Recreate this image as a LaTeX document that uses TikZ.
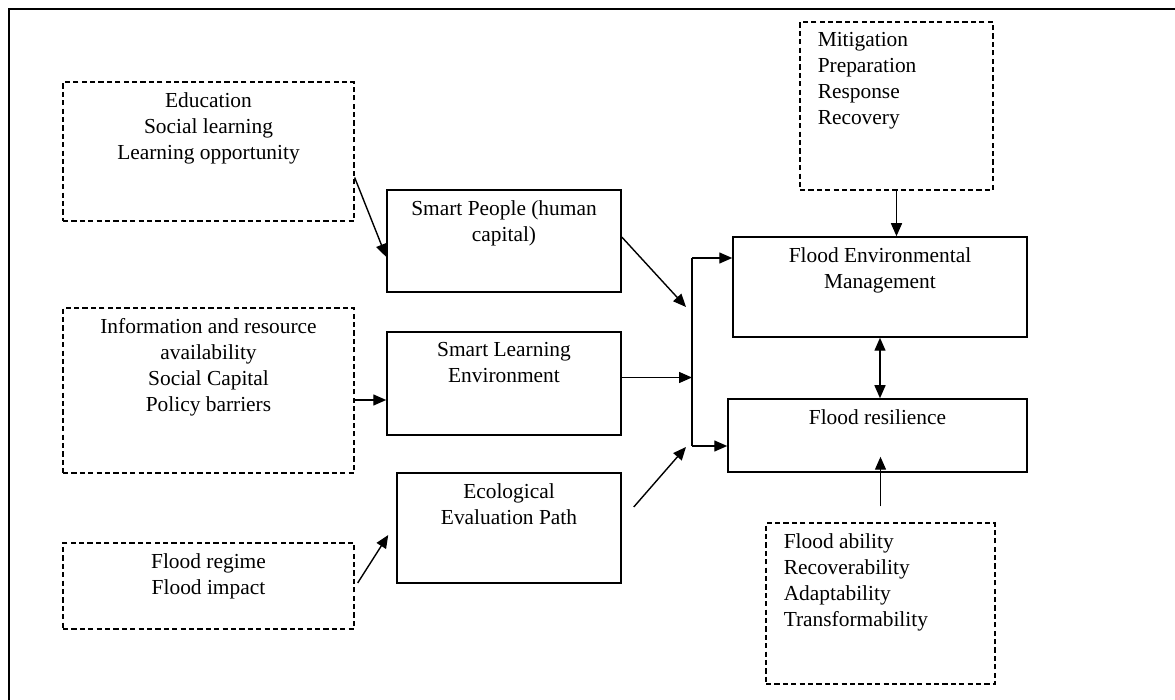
\documentclass[tikz,border=0pt]{standalone}
\usepackage{fontspec}
\setmainfont{Liberation Serif}
\usetikzlibrary{arrows.meta}
\begin{document}
\begin{tikzpicture}[x=.5pt,y=-.5pt,
		font=\fontsize{10.7}{13}\selectfont,
		linebox/.style={draw,line width=.75pt,inner sep=0pt},
		dashbox/.style={draw,line width=.65pt,dash pattern=on 2.6pt off 1.6pt,inner sep=0pt},
		head/.style={anchor=north,yshift=-5.5pt,align=center,inner sep=0pt},
		list/.style={anchor=north west,xshift=9pt,yshift=-5.5pt,align=left,inner sep=0pt},
		arr/.style={-{Triangle[length=6.5pt,width=5.5pt]},line width=.7pt}]
	\useasboundingbox (0,0) rectangle (1175,700);
	%page frame
		\draw[line width=1.1pt] (9,700) -- (9,9) -- (1175,9);
	% factors (dashed)
		\node[dashbox,minimum width=145.5pt,minimum height=69.5pt,
			label={[head]north:Education\\Social learning\\Learning opportunity}] (edu) at (208.5,151.5) {};
		\node[dashbox,minimum width=145.5pt,minimum height=82.5pt,
			label={[head]north:Information and resource\\availability\\Social Capital\\Policy barriers}] (info) at (208.5,390.5) {};
		\node[dashbox,minimum width=145.5pt,minimum height=43pt,
			label={[head]north:Flood regime\\Flood impact}] (regime) at (208.5,586) {};
		\node[dashbox,minimum width=96.5pt,minimum height=84pt,
			label={[list]north west:Mitigation\\Preparation\\Response\\Recovery}] (phases) at (896.5,106) {};
		\node[dashbox,minimum width=114.5pt,minimum height=80.5pt,
			label={[list]north west:Flood ability\\Recoverability\\Adaptability\\Transformability}] (abilities) at (880.5,603.5) {};
	% smart city parts
		\node[linebox,minimum width=117pt,minimum height=51pt,
			label={[head]north:Smart People (human\\capital)}] (people) at (504,241) {};
		\node[linebox,minimum width=117pt,minimum height=51.5pt,
			label={[head]north:Smart Learning\\Environment}] (learning) at (504,383.5) {};
		\node[linebox,minimum width=112pt,minimum height=55pt,
			label={[head]north:Ecological\\Evaluation Path}] (eco) at (509,528) {};
	% outcomes
		\node[linebox,minimum width=147pt,minimum height=50pt,
			label={[head]north:Flood Environmental\\Management}] (fem) at (880,287) {};
		\node[linebox,minimum width=149.5pt,minimum height=36.5pt,
			label={[head]north:Flood resilience}] (resil) at (877.5,435.5) {};
	% factors into parts
		\draw[arr] ([yshift=-13pt]edu.east) -- ([yshift=-8pt]people.west);
		\draw[arr] ([yshift=-4.75pt]info.east) -- ([yshift=-4.75pt]info.east -| learning.west);
		\draw[arr] ([xshift=1.5pt,yshift=1.5pt]regime.east) -- ([xshift=-4pt,yshift=-3.5pt]eco.west);
	% junction
		\coordinate (jtop) at (692,258);
		\coordinate (jbot) at (692,446);
		\coordinate (jp) at (686,307);
		\coordinate (je) at (686,447);
		\draw[line width=.7pt] (jtop) -- (jbot);
		\foreach \a/\b in {jtop/fem,jbot/resil}
			\draw[arr] (\a) -- (\a -| \b.west);
		\draw[arr] ([yshift=2pt]people.east) -- (jp);
		\draw[arr] ([yshift=3pt]learning.east) -- ([yshift=3pt]learning.east -| jtop);
		\draw[arr] ([xshift=6pt,yshift=10.5pt]eco.east) -- (je);
	% around the outcomes
		\draw[arr] (phases.south) -- (phases.south |- fem.north);
		\draw[{Triangle[length=6.5pt,width=5.5pt]}-{Triangle[length=6.5pt,width=5.5pt]},line width=.7pt] (fem.south) -- (fem.south |- resil.north);
		\draw[arr] ([yshift=8pt]abilities.north) -- ([yshift=8pt]abilities.north |- resil.south);
\end{tikzpicture}
\end{document}
